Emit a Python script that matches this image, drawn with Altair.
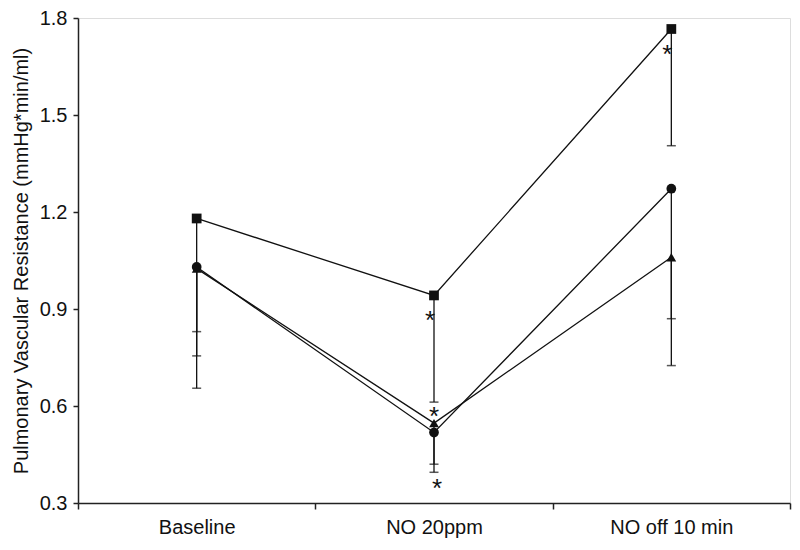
import altair as alt
import pandas as pd

categories = ["Baseline", "NO 20ppm", "NO off 10 min"]
series = ["Square", "Circle", "Triangle"]
shapes = ["square", "circle", "triangle-up"]
means_square = [1.18, 0.942, 1.766]
means_circle = [1.03, 0.518, 1.272]
means_triangle = [1.025, 0.547, 1.06]
lower_square = [0.655, 0.612, 1.405]
lower_circle = [0.755, 0.395, 0.725]
lower_triangle = [0.83, 0.42, 0.87]

star_cats = ["NO 20ppm", "NO 20ppm", "NO 20ppm", "NO off 10 min"]
star_y = [0.886, 0.587, 0.365, 1.707]
star_shift = ["left", "mid", "right", "left"]

rows = []
for s, m, lo in zip(series, [means_square, means_circle, means_triangle],
                    [lower_square, lower_circle, lower_triangle]):
    for c, mv, lv in zip(categories, m, lo):
        rows.append({"series": s, "cat": c, "mean": mv, "lower": lv})
df = pd.DataFrame(rows)
stars = pd.DataFrame({"cat": star_cats, "y": star_y, "shift": star_shift, "t": ["*"] * 4})

FONT = "Liberation Sans"
FS = 20

xscale = alt.Scale(type="band", domain=categories, paddingInner=0, paddingOuter=0)
xenc = alt.X("cat:N", sort=categories, bandPosition=0.5, scale=xscale,
             axis=alt.Axis(title=None, tickBand="extent", labelFontSize=FS, labelFont=FONT,
                           labelColor="#111", labelPadding=8, tickSize=6, tickColor="#222",
                           domainColor="#222", domainWidth=1.5, tickWidth=1.5, labelAngle=0))
yscale = alt.Scale(domain=[0.3, 1.8], nice=False, zero=False)
yenc = alt.Y("mean:Q", scale=yscale,
             axis=alt.Axis(title="Pulmonary Vascular Resistance (mmHg*min/ml)",
                           values=[0.3, 0.6, 0.9, 1.2, 1.5, 1.8], format=".1f",
                           labelFontSize=FS, labelFont=FONT, labelColor="#111",
                           titleFont=FONT, titleFontSize=FS, titleFontWeight="normal",
                           titleColor="#111", titlePadding=8, labelPadding=6,
                           tickSize=5, tickColor="#222", tickWidth=1.5,
                           domainColor="#222", domainWidth=1.5, grid=False))

base = alt.Chart(df)
shape_scale = alt.Scale(domain=series, range=shapes)

errs = base.mark_rule(color="#111", strokeWidth=1.3).encode(
    x=xenc, y=yenc, y2="lower:Q", detail="series:N")
caps = base.mark_tick(color="#111", thickness=1.5, size=9, orient="horizontal").encode(
    x=xenc, y=alt.Y("lower:Q", scale=yscale), detail="series:N")
lines = base.mark_line(color="#111", strokeWidth=1.3).encode(
    x=xenc, y=yenc, detail="series:N")
pts = base.mark_point(filled=True, color="#111", opacity=1, size=95).encode(
    x=xenc, y=yenc,
    shape=alt.Shape("series:N", scale=shape_scale, legend=None))

star_layers = []
for sh, dx in [("left", -4), ("mid", 0), ("right", 3)]:
    star_layers.append(
        alt.Chart(stars).transform_filter(alt.datum.shift == sh)
        .mark_text(fontSize=26, font=FONT, color="#111", baseline="middle", dy=7, dx=dx)
        .encode(x=alt.X("cat:N", sort=categories, bandPosition=0.5, scale=xscale),
                y=alt.Y("y:Q", scale=yscale), text="t:N"))

chart = alt.layer(errs, caps, lines, pts, *star_layers).properties(
    width=712, height=485,
    padding={"left": 70, "top": 10, "right": 2, "bottom": 40},
    autosize=alt.AutoSizeParams(type="none"),
).configure_view(stroke="#999", strokeWidth=1.2).configure(background="white")

chart.save("out.html", embed_options={"renderer": "svg", "actions": False})
